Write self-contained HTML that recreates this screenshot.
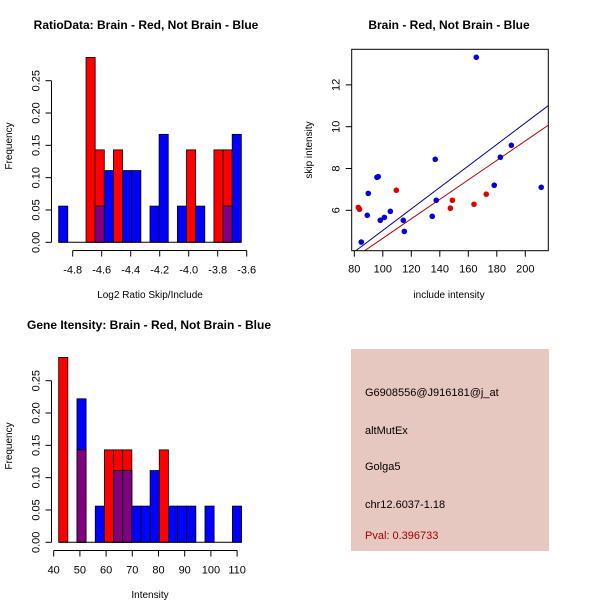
<!DOCTYPE html>
<html><head><meta charset="utf-8"><style>
body{margin:0;background:#fff}
svg{display:block;font-family:"Liberation Sans",sans-serif}
</style></head><body>
<svg id="s" width="600" height="600" viewBox="0 0 600 600">
<rect width="600" height="600" fill="#fff"/>
<text x="146" y="29" font-size="12" font-weight="bold" text-anchor="middle">RatioData: Brain - Red, Not Brain - Blue</text>
<text x="449" y="29" font-size="12" font-weight="bold" text-anchor="middle">Brain - Red, Not Brain - Blue</text>
<text x="149" y="329" font-size="12" font-weight="bold" text-anchor="middle">Gene Itensity: Brain - Red, Not Brain - Blue</text>
<text x="150" y="298" font-size="10" text-anchor="middle">Log2 Ratio Skip/Include</text>
<text x="150" y="598" font-size="10" text-anchor="middle">Intensity</text>
<text x="449" y="298" font-size="10" text-anchor="middle">include intensity</text>
<text transform="translate(12,146) rotate(-90)" font-size="10" text-anchor="middle">Frequency</text>
<text transform="translate(12,446) rotate(-90)" font-size="10" text-anchor="middle">Frequency</text>
<text transform="translate(312,150) rotate(-90)" font-size="10" text-anchor="middle">skip intensity</text>
<g>
<rect x="351" y="349" width="198" height="202" fill="#e6c8c0"/>
<text x="365" y="396" font-size="11">G6908556@J916181@j_at</text>
<text x="365" y="434" font-size="11">altMutEx</text>
<text x="365" y="470" font-size="11">Golga5</text>
<text x="365" y="508" font-size="11">chr12.6037-1.18</text>
<text x="365" y="539" font-size="11" fill="#a00000">Pval: 0.396733</text>
</g>
</svg>
<script>
// Ratio histogram data
const ratioStart = -4.897, ratioBinW = 0.063;
const ratioBlue = [0.056,0,0,0,0.056,0.111,0,0.111,0.111,0,0.056,0.167,0,0.056,0,0.056,0,0,0.056,0.167];
const ratioRed  = [0,0,0,0.286,0.143,0,0.143,0,0,0,0,0,0,0,0.143,0,0,0.143,0.143,0];
const ratioTicks = [-4.8,-4.6,-4.4,-4.2,-4.0,-3.8,-3.6];
// Gene intensity histogram data
const geneStart = 41.9, geneBinW = 3.49;
const geneBlue = [0,0,0.222,0,0.056,0,0.111,0.111,0.056,0.056,0.111,0,0.056,0.056,0.056,0,0.056,0,0,0.056];
const geneRed  = [0.286,0,0.143,0,0,0.143,0.143,0.143,0,0,0,0.143,0,0,0,0,0,0,0,0];
const geneTicks = [40,50,60,70,80,90,100,110];
const freqTicks = [0,0.05,0.10,0.15,0.20,0.25];
// Scatter data
const blueX = [165.6,89.8,96.8,95.9,89.1,98.2,101.1,105.3,114.4,115.1,84.9,134.7,136.8,137.5,178.2,182.5,190.2,211.2];
const blueY = [13.32,6.81,7.61,7.58,5.76,5.52,5.66,5.95,5.52,4.99,4.48,5.71,8.44,6.48,7.20,8.54,9.11,7.10];
const redX = [82.8,83.7,109.5,147.4,148.8,164.0,172.6];
const redY = [6.14,6.05,6.96,6.10,6.48,6.29,6.77];
const blueLine = [0.0514,-0.1];
const redLine = [0.0466,0];
const scatXTicks = [80,100,120,140,160,180,200];
const scatYTicks = [6,8,10,12];

const NS="http://www.w3.org/2000/svg", svg=document.getElementById('s');
function mk(tag,attrs,parent){const e=document.createElementNS(NS,tag);for(const k in attrs)e.setAttribute(k,attrs[k]);(parent||svg).appendChild(e);return e;}

function hist(opt){
  const g=mk('g',{});
  
  
  const sx=v=>opt.x0+(v-opt.v0)*opt.kx, sy=f=>opt.y0-f*opt.ky;
  const n=opt.blue.length;
  for(let i=0;i<n;i++){
    const a=sx(opt.start+i*opt.w), b=sx(opt.start+(i+1)*opt.w);
    const bl=opt.blue[i], rd=opt.red[i], mn=Math.min(bl,rd);
    if(bl>0){const r=mk('rect',{x:a,y:sy(bl),width:b-a,height:sy(0)-sy(bl),fill:'#0000ff',stroke:'#000','stroke-width':0.8},g);
      
      }
    if(rd>0){const r=mk('rect',{x:a,y:sy(rd),width:b-a,height:sy(0)-sy(rd),fill:'#ff0000',stroke:'#000','stroke-width':0.8},g);
      
      }
    if(mn>0){const r=mk('rect',{x:a,y:sy(mn),width:b-a,height:sy(0)-sy(mn),fill:'#800080',stroke:'#000','stroke-width':0.8},g);
      
      }
  }
  mk('line',{x1:sx(opt.start),x2:sx(opt.start+n*opt.w),y1:sy(0),y2:sy(0),stroke:'#000'},g);
  const ya=mk('g',{},g);
  
  
  const xa=opt.yAxisX;
  mk('line',{x1:xa,x2:xa,y1:sy(0),y2:sy(freqTicks[freqTicks.length-1]),stroke:'#000'},ya);
  freqTicks.forEach(t=>{
    mk('line',{x1:xa-6,x2:xa,y1:sy(t),y2:sy(t),stroke:'#000'},ya);
    const tx=mk('text',{transform:`translate(${xa-12},${sy(t)}) rotate(-90)`,'font-size':11,'text-anchor':'middle'},ya);
    tx.textContent=t.toFixed(2);
  });
  const xg=mk('g',{},g);
  
  
  const ay=opt.xAxisY;
  mk('line',{x1:sx(opt.ticks[0]),x2:sx(opt.ticks[opt.ticks.length-1]),y1:ay,y2:ay,stroke:'#000'},xg);
  opt.ticks.forEach(t=>{
    mk('line',{x1:sx(t),x2:sx(t),y1:ay,y2:ay+6,stroke:'#000'},xg);
    const tx=mk('text',{x:sx(t),y:ay+23,'font-size':11,'text-anchor':'middle'},xg);
    tx.textContent=opt.fmt(t);
  });
}
hist({name:'ratio-histogram',blue:ratioBlue,red:ratioRed,start:ratioStart,w:ratioBinW,
  x0:72.7,v0:-4.8,kx:145,y0:242.3,ky:646.4,ticks:ratioTicks,yAxisX:51.5,xAxisY:250.5,fmt:t=>t.toFixed(1)});
hist({name:'gene-histogram',blue:geneBlue,red:geneRed,start:geneStart,w:geneBinW,
  x0:53.7,v0:40,kx:2.62,y0:542.3,ky:646.4,ticks:geneTicks,yAxisX:51.5,xAxisY:550.5,fmt:t=>String(t)});

(function(){
  const g=mk('g',{});
  
  
  const L=351.7,R=548.3,T=49.3,B=250.7;
  const sx=v=>354.3+(v-80)*1.425, sy=v=>210.3-(v-6)*20.9;
  const cp=mk('clipPath',{id:'cp'},g);mk('rect',{x:L,y:T,width:R-L,height:B-T},cp);
  const x1=78.2,x2=216.1;
  const bl=mk('line',{x1:sx(x1),y1:sy(blueLine[0]*x1+blueLine[1]),x2:sx(x2),y2:sy(blueLine[0]*x2+blueLine[1]),stroke:'#00008b','clip-path':'url(#cp)'},g);
  
  
  const rl=mk('line',{x1:sx(x1),y1:sy(redLine[0]*x1+redLine[1]),x2:sx(x2),y2:sy(redLine[0]*x2+redLine[1]),stroke:'#b00000','clip-path':'url(#cp)'},g);
  
  
  blueX.forEach((x,i)=>{const c=mk('circle',{cx:sx(x),cy:sy(blueY[i]),r:2.8,fill:'#0000dd'},g);
    
    });
  redX.forEach((x,i)=>{const c=mk('circle',{cx:sx(x),cy:sy(redY[i]),r:2.8,fill:'#dd0000'},g);
    
    });
  const box=mk('rect',{x:L,y:T,width:R-L,height:B-T,fill:'none',stroke:'#000'},g);
  
  
  scatXTicks.forEach(t=>{mk('line',{x1:sx(t),x2:sx(t),y1:B,y2:B+6,stroke:'#000'},g);
    const tx=mk('text',{x:sx(t),y:B+22,'font-size':11,'text-anchor':'middle'},g);tx.textContent=t;});
  scatYTicks.forEach(t=>{mk('line',{x1:L-6,x2:L,y1:sy(t),y2:sy(t),stroke:'#000'},g);
    const tx=mk('text',{transform:`translate(${L-12},${sy(t)}) rotate(-90)`,'font-size':11,'text-anchor':'middle'},g);tx.textContent=t;});
})();
</script>
</body></html>
